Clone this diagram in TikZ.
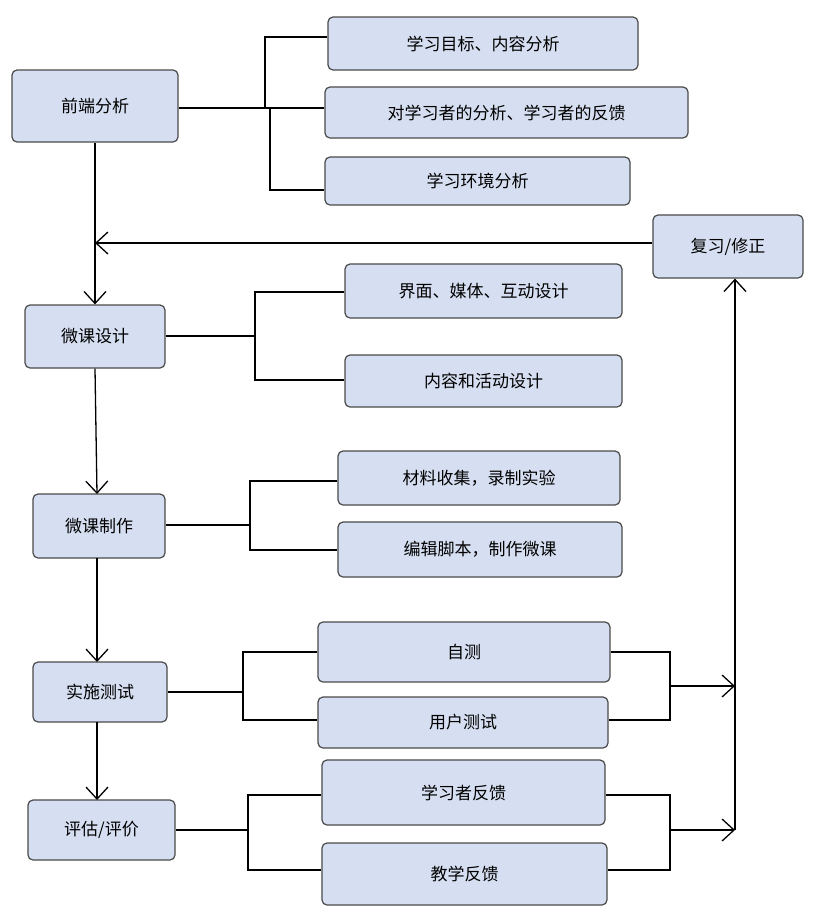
\documentclass[tikz,border=0pt]{standalone}
\usepackage{fontspec}
\setmainfont{Noto Sans CJK SC}
\usetikzlibrary{arrows.meta}
\definecolor{boxfill}{HTML}{D6DFF1}
\definecolor{boxline}{HTML}{4A4A4A}
\tikzset{
 bx/.style={draw=boxline,line width=1.2pt,fill=boxfill,rounded corners=5pt,font=\fontsize{17}{20}\selectfont,inner sep=0pt},
 ln/.style={line width=1.3pt,black},
 ar/.style={ln,-{Straight Barb[length=12pt,width=22pt,line width=1.3pt]}}
}
\newcommand{\bxat}[5]{\node[bx,minimum width=#3-#1,minimum height=#4-#2] (#5) at ({(#1+#3)/2},{(#2+#4)/2}) {};}
\begin{document}
\begin{tikzpicture}[x=1pt,y=-1pt]
\useasboundingbox (0,0) rectangle (814,922);
\node[bx,minimum width=166,minimum height=72] (qd) at (95,106) {前端分析};
\node[bx,minimum width=310,minimum height=53] (a1) at (483,43.5) {学习目标、内容分析};
\node[bx,minimum width=363,minimum height=51] (a2) at (506.5,112.5) {对学习者的分析、学习者的反馈};
\node[bx,minimum width=305,minimum height=48] (a3) at (477.5,181) {学习环境分析};
\node[bx,minimum width=150,minimum height=63] (fx) at (728,246.5) {复习/修正};
\node[bx,minimum width=140,minimum height=63] (sj) at (95,336.5) {微课设计};
\node[bx,minimum width=277,minimum height=54] (b1) at (483.5,291) {界面、媒体、互动设计};
\node[bx,minimum width=277,minimum height=52] (b2) at (483.5,381) {内容和活动设计};
\node[bx,minimum width=132,minimum height=64] (zz) at (99,526) {微课制作};
\node[bx,minimum width=282,minimum height=54] (c1) at (479,478) {材料收集，录制实验};
\node[bx,minimum width=284,minimum height=55] (c2) at (480,549.5) {编辑脚本，制作微课};
\node[bx,minimum width=134,minimum height=60] (cs) at (100,692) {实施测试};
\node[bx,minimum width=292,minimum height=60] (d1) at (464,652) {自测};
\node[bx,minimum width=290,minimum height=51] (d2) at (463,722.5) {用户测试};
\node[bx,minimum width=147,minimum height=60] (pg) at (101.5,830) {评估/评价};
\node[bx,minimum width=283,minimum height=65] (e1) at (463.5,792.5) {学习者反馈};
\node[bx,minimum width=285,minimum height=62] (e2) at (464.5,874) {教学反馈};
% bracket 1
\draw[ln] (a1.west|-0,37) -- (265,37) -- (265,108);
\draw[ln] (270,108) -- (270,190) -- (a3.west|-0,190);
\draw[ln] (qd.east|-0,108) -- (a2.west|-0,108);
\coordinate (m1) at (95,243);
\draw[ar] (fx.west|-0,243) -- (m1);
\draw[ar] (qd.south) -- (sj.north);
% bracket 2
\draw[ln] (sj.east|-0,336) -- (255,336);
\draw[ln] (b1.west|-0,292) -- (255,292) -- (255,380) -- (b2.west|-0,380);
\draw[ar] (sj.south) -- (97,494);
\draw[ln] (zz.east|-0,525) -- (250,525);
\draw[ln] (c1.west|-0,481) -- (250,481) -- (250,550) -- (c2.west|-0,550);
\draw[ar] (97,558) -- (97,662);
\draw[ln] (cs.east|-0,692) -- (243,692);
\draw[ln] (d1.west|-0,652) -- (243,652) -- (243,720) -- (d2.west|-0,720);
\draw[ln] (d1.east|-0,652) -- (670,652) -- (670,720) -- (d2.east|-0,720);
\coordinate (r1) at (735,686);
\draw[ar] (670,686) -- (r1);
\draw[ar] (97,722) -- (97,800);
\draw[ln] (pg.east|-0,830) -- (248,830);
\draw[ln] (e1.west|-0,795) -- (248,795) -- (248,870) -- (e2.west|-0,870);
\draw[ln] (e1.east|-0,795) -- (670,795) -- (670,870) -- (e2.east|-0,870);
\coordinate (r2) at (735,830);
\draw[ar] (670,830) -- (r2);
\draw[ar] (r2) -- (fx.south-|735,0);
\end{tikzpicture}
\end{document}
